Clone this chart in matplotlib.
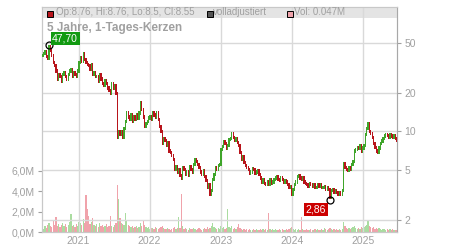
import matplotlib
matplotlib.use('Agg')
import matplotlib.pyplot as plt
import matplotlib.dates as mdates
from matplotlib.patches import Rectangle
from matplotlib.ticker import FixedLocator, FuncFormatter, NullLocator
from datetime import datetime, timedelta

plt.rcParams['font.family'] = ['Liberation Sans', 'DejaVu Sans']

# -- DATA --
START = datetime(2020, 6, 29)   # first weekly candle

# weekly closes
closes = [
    40, 41, 43, 39, 38, 47, 44, 40, 35, 33, 30,
    26, 28, 27, 25, 28, 29, 27, 26, 28, 30,
    31, 27, 29, 28, 27, 30, 35, 38, 36, 41,
    37, 35, 34, 33, 31, 34, 28, 29, 27, 27,
    25, 28, 26, 24, 23, 25, 24, 22, 21, 20,
    24, 22, 23, 20, 9, 10, 9.5, 10, 9, 10.5,
    12, 14, 13, 12.5, 13.5, 12, 13, 12.5, 13.5, 12.8,
    14, 17, 15, 13, 11, 11.5, 12, 12.8, 13, 12.5,
    14, 13.5, 13, 14, 12.5, 11, 10, 8, 8.8, 8.5,
    7.8, 8.2, 7, 6.8, 6.5, 6, 5, 5.3, 4.8, 5,
    4.5, 4.3, 5.2, 5, 4.6, 4.8, 4.5, 5.3, 5, 4.8,
    5.5, 6, 5.8, 5.5, 5.2, 4.8, 4.6, 4.9, 4.4, 4.1,
    3.6, 3.8, 3.2, 3.4, 4.2, 4.6, 5.2, 5.0, 5.4, 5.5,
    7.2, 7.6, 8.3, 8.0, 7.4, 7.8, 8.6, 8.8, 9.7, 9.0,
    8.5, 8.8, 8.2, 7.8, 6.8, 6.0, 6.3, 5.7, 5.4, 5.2,
    5.0, 4.7, 4.8, 5.1, 5.0, 4.7, 4.8, 4.9, 4.6, 4.3,
    4.0, 4.2, 3.9, 3.8, 4.0, 3.8, 4.2, 3.9, 4.0, 4.2,
    4.3, 4.4, 4.2, 4.1, 4.3, 4.2, 4.0, 4.1, 4.0, 3.8,
    3.6, 3.7, 3.2, 3.5, 3.8, 4.0, 4.4, 4.5, 4.3, 4.2,
    4.3, 4.0, 3.9, 3.8, 3.7, 3.9, 3.8, 3.7, 3.8, 3.6,
    3.6, 3.8, 3.7, 3.8, 3.6, 3.6, 3.7, 3.5, 3.6, 3.5,
    3.0, 3.4, 3.5, 3.3, 3.4, 3.3, 3.2, 3.3, 3.2, 3.4,
    5.6, 5.2, 5.0, 4.9, 5.2, 5.0, 5.5, 5.8, 7.0, 7.2,
    7.5, 7.3, 7.8, 7.0, 7.4, 7.8, 9.5, 10.5, 11.5, 10.0,
    9.6, 9.0, 8.0, 7.5, 7.0, 6.8, 7.4, 8.0, 8.4, 8.8,
    9.2, 9.5, 9.3, 9.0, 9.4, 9.2, 9.0, 9.3, 8.8, 8.55,
]

# volume in millions
volumes = [
    0.5, 0.3, 0.6, 0.4, 0.7, 0.9, 0.6, 0.5, 1.2, 0.7, 1.5,
    0.6, 0.8, 0.5, 0.7, 0.9, 0.6, 0.8, 0.5, 0.7, 1.0,
    1.8, 0.6, 0.7, 0.5, 0.8, 0.6, 1.0, 0.9, 0.7, 1.3,
    0.9, 3.6, 2.3, 1.6, 0.8, 1.0, 1.4, 0.7, 0.6, 0.8,
    0.5, 0.9, 0.6, 0.7, 0.5, 0.6, 0.8, 0.5, 0.6, 1.6,
    0.6, 0.5, 0.7, 0.9, 4.6, 3.2, 1.4, 0.9, 0.8, 0.7,
    1.9, 1.1, 0.7, 0.6, 0.5, 0.6, 0.4, 0.5, 0.6, 0.4,
    0.5, 0.9, 0.6, 1.2, 0.7, 0.5, 0.4, 0.5, 0.3, 0.4,
    0.4, 0.3, 0.5, 0.4, 0.3, 0.4, 0.5, 0.6, 0.4, 0.3,
    0.3, 0.4, 0.3, 0.2, 0.3, 0.4, 0.5, 0.3, 0.4, 1.5,
    0.4, 3.7, 0.6, 0.3, 0.4, 0.3, 0.2, 0.4, 0.3, 0.3,
    0.4, 0.3, 0.2, 0.3, 0.4, 0.3, 0.2, 0.3, 0.4, 0.3,
    0.5, 0.3, 0.4, 0.6, 0.9, 0.5, 0.4, 0.3, 0.4, 0.3,
    0.6, 0.4, 0.5, 0.3, 0.4, 2.3, 0.5, 0.4, 0.6, 0.3,
    0.4, 0.3, 0.5, 0.8, 0.4, 0.3, 0.2, 0.3, 0.2, 0.3,
    0.2, 0.3, 0.2, 0.2, 0.3, 0.2, 0.3, 0.2, 0.2, 0.3,
    0.2, 0.3, 0.2, 0.3, 0.2, 1.9, 0.3, 0.2, 0.3, 0.2,
    0.3, 0.2, 0.2, 0.3, 0.2, 0.3, 0.2, 0.2, 0.3, 0.2,
    0.3, 0.4, 0.5, 0.3, 0.2, 0.3, 0.2, 0.3, 0.2, 1.5,
    0.3, 0.2, 0.2, 0.3, 0.2, 0.2, 0.3, 0.2, 0.2, 0.3,
    0.2, 0.3, 0.2, 0.2, 0.3, 0.2, 0.4, 0.3, 0.2, 0.3,
    0.4, 0.3, 0.2, 0.3, 0.2, 0.3, 0.2, 0.3, 0.2, 0.3,
    1.0, 0.6, 0.4, 0.3, 0.4, 0.3, 0.4, 0.5, 0.6, 0.4,
    0.3, 0.4, 0.3, 0.5, 0.4, 0.5, 0.6, 0.7, 1.2, 0.6,
    0.5, 0.4, 0.5, 0.3, 0.4, 0.3, 0.4, 0.3, 0.2, 0.3,
    0.3, 0.2, 0.3, 0.2, 0.3, 0.2, 0.3, 0.2, 0.2, 0.2,
]

# extremes marked on the chart
max_week, max_price = 5, 47.70
min_week, min_price = 211, 2.86

price_ticks = [2, 5, 10, 20, 50]
vol_ticks = [0, 2, 4, 6]
years = [2021, 2022, 2023, 2024, 2025]

header = "Op:8.76, Hi:8.76, Lo:8.5, Cl:8.55"
title = "5 Jahre, 1-Tages-Kerzen"

# -- COLORS --
RED = '#b8141b'
GREEN = '#3fa52a'
PINK = '#f0a3ab'
LGREEN = '#aadca0'
GRID = '#d9d9d9'
TXT = '#a0a0a0'

dates = [START + timedelta(weeks=i) for i in range(len(closes))]
opens = [closes[0]] + closes[:-1]
up = [c >= o for o, c in zip(opens, closes)]

fig = plt.figure(figsize=(4.5, 2.5), dpi=100)
ax = fig.add_axes([0.0927, 0.072, 0.7902, 0.9])
ax2 = ax.twinx()

# -- volume (left axis) --
ax.bar(dates, volumes, width=6.5, color=[LGREEN if u else PINK for u in up],
       linewidth=0, zorder=2)
ax.set_ylim(0, 22.1)
ax.yaxis.set_major_locator(FixedLocator(vol_ticks))
ax.yaxis.set_major_formatter(FuncFormatter(lambda v, p: f'{v:.1f}M'.replace('.', ',')))

# -- candles (right axis, log) --
bottoms = [min(o, c) / 1.03 for o, c in zip(opens, closes)]
tops = [max(o, c) * 1.03 for o, c in zip(opens, closes)]
heights = [t - b for b, t in zip(bottoms, tops)]
ax2.bar(dates, heights, bottom=bottoms, width=6.5,
        color=[GREEN if u else RED for u in up], linewidth=0, zorder=3)
ax2.set_yscale('log')
ax2.set_ylim(1.61, 96)
ax2.yaxis.set_major_locator(FixedLocator(price_ticks))
ax2.yaxis.set_minor_locator(NullLocator())
ax2.yaxis.set_major_formatter(FuncFormatter(lambda v, p: f'{v:g}'))

# grid from price axis
for t in price_ticks:
    ax2.axhline(t, color=GRID, linewidth=1, zorder=1)
for y in years:
    ax2.axvline(datetime(y, 1, 1), color=GRID, linewidth=1, zorder=1)

ax.set_xlim(START - timedelta(days=3), dates[-1] + timedelta(days=3))
ax.xaxis.set_major_locator(FixedLocator([mdates.date2num(datetime(y, 1, 1)) for y in years]))
ax.xaxis.set_major_formatter(FuncFormatter(lambda v, p: mdates.num2date(v).strftime('%Y')))

for a in (ax, ax2):
    a.tick_params(colors=TXT, labelsize=7.5, length=3, width=0.8, pad=2)
    for s in a.spines.values():
        s.set_color('#c8c8c8')
ax.tick_params(axis='x', length=0, pad=3)
ax2.spines['right'].set_color('#a8a8a8')

# -- markers for max / min --
d_max, d_min = dates[max_week], dates[min_week]
ax2.plot([d_max, d_min], [max_price, min_price], 'o', mfc='none', mec='black',
         ms=5, mew=0.9, zorder=5)
ax2.annotate(f'{max_price:.2f}'.replace('.', ','), (d_max, max_price),
             xytext=(16, 7), textcoords='offset pixels', ha='center', va='center',
             color='white', fontsize=7.5,
             bbox=dict(boxstyle='square,pad=0.15', fc='#119a11', ec='none'), zorder=6)
ax2.annotate(f'{min_price:.2f}'.replace('.', ','), (d_min, min_price),
             xytext=(-14, -9), textcoords='offset pixels', ha='center', va='center',
             color='white', fontsize=7.5,
             bbox=dict(boxstyle='square,pad=0.15', fc='#cc0000', ec='none'), zorder=6)

# -- header band and legend --
ax2.add_patch(Rectangle((0, 0.95), 1, 0.05, transform=ax2.transAxes,
                        fc='#e4e4e4', ec='none', zorder=0.5))
sq_w, sq_h = 6 / 355.6, 6 / 225
for xs, col in [(0.0141, RED), (0.464, '#555555'), (0.691, PINK)]:
    ax2.add_patch(Rectangle((xs, 0.954), sq_w, sq_h, transform=ax2.transAxes,
                            fc=col, ec='black', lw=0.7, zorder=4))
ax2.text(0.040, 0.976, header, transform=ax2.transAxes, fontsize=7, color=TXT, va='center')
ax2.text(0.482, 0.976, 'volladjustiert', transform=ax2.transAxes, fontsize=7, color=TXT, va='center')
ax2.text(0.709, 0.976, 'Vol: 0.047M', transform=ax2.transAxes, fontsize=7, color=TXT, va='center')
ax2.text(0.015, 0.905, title, transform=ax2.transAxes, fontsize=8.5, fontweight='bold',
         color=TXT, va='center', zorder=7)

plt.savefig('out.png', dpi=100)
plt.close(fig)
